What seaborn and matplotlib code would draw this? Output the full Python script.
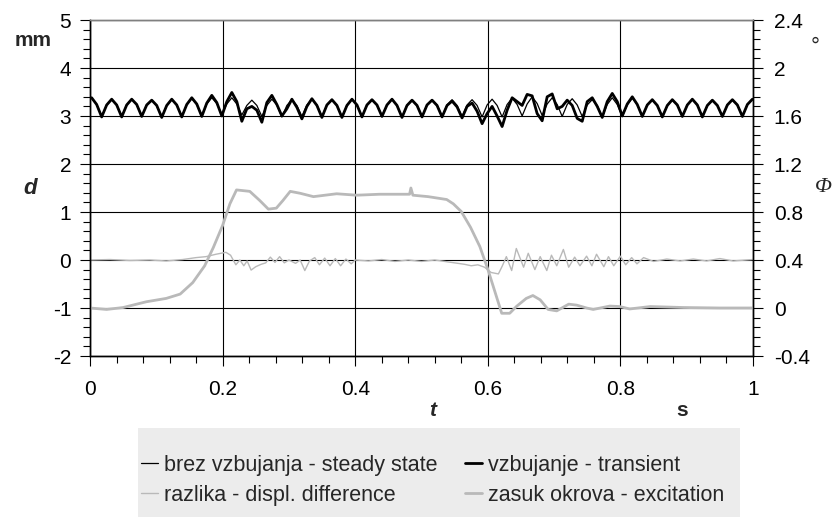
import numpy as np
import matplotlib
matplotlib.use('Agg')
import matplotlib.pyplot as plt
import seaborn as sns
from matplotlib.patches import Rectangle
from matplotlib.ticker import MultipleLocator, FixedLocator

# odmiki (mm), vzorci na vsake 7.55 ms; po 4 vzorci na nihaj (vrh, pad, dno, dvig)
steady = [
    3.37, 3.24, 2.99, 3.23,  3.34, 3.23, 2.99, 3.23,  3.35, 3.24, 3.00, 3.23,
    3.33, 3.22, 2.98, 3.22,  3.34, 3.23, 2.99, 3.24,  3.36, 3.24, 3.00, 3.25,
    3.38, 3.26, 3.03, 3.25,  3.38, 3.25, 3.02, 3.22,  3.33, 3.22, 2.99, 3.22,
    3.35, 3.23, 2.98, 3.22,  3.34, 3.22, 2.99, 3.23,  3.35, 3.23, 2.99, 3.23,
    3.34, 3.22, 2.98, 3.22,  3.35, 3.23, 2.99, 3.23,  3.34, 3.23, 3.00, 3.23,
    3.35, 3.22, 2.98, 3.22,  3.33, 3.22, 2.99, 3.23,  3.34, 3.23, 2.99, 3.23,
    3.34, 3.22, 2.99, 3.23,  3.34, 3.22, 2.98, 3.23,  3.35, 3.22, 2.98, 3.24,
    3.37, 3.24, 3.00, 3.25,  3.40, 3.26, 3.01, 3.25,  3.38, 3.24, 2.99, 3.24,
    3.36, 3.23, 2.99, 3.23,  3.34, 3.22, 2.98, 3.24,  3.38, 3.24, 2.99, 3.23,
    3.37, 3.24, 2.99, 3.23,  3.34, 3.22, 2.98, 3.22,  3.34, 3.23, 2.99, 3.23,
    3.35, 3.23, 2.98, 3.22,  3.33, 3.22, 2.99, 3.23,  3.34, 3.23, 2.99, 3.24,
    3.35,
]
transient = [
    3.38, 3.24, 2.98, 3.23,  3.35, 3.23, 2.98, 3.23,  3.35, 3.24, 2.99, 3.23,
    3.33, 3.22, 2.97, 3.22,  3.35, 3.23, 2.98, 3.24,  3.38, 3.25, 2.99, 3.27,
    3.43, 3.28, 3.00, 3.30,  3.49, 3.30, 2.89, 3.15,  3.20, 3.12, 2.87, 3.28,
    3.43, 3.24, 3.00, 3.15,  3.35, 3.18, 2.94, 3.20,  3.36, 3.22, 2.97, 3.23,
    3.34, 3.22, 2.97, 3.22,  3.35, 3.23, 2.98, 3.23,  3.34, 3.23, 2.99, 3.23,
    3.35, 3.22, 2.97, 3.22,  3.33, 3.22, 2.98, 3.23,  3.33, 3.22, 2.98, 3.22,
    3.31, 3.19, 2.96, 3.20,  3.27, 3.10, 2.84, 3.05,  3.20, 3.00, 2.78, 3.12,
    3.38, 3.30, 3.22, 3.45,  3.42, 3.05, 2.90, 3.40,  3.46, 3.15, 3.20, 3.33,
    3.22, 2.95, 2.89, 3.30,  3.38, 3.20, 2.97, 3.30,  3.47, 3.30, 3.00, 3.25,
    3.40, 3.24, 2.99, 3.23,  3.34, 3.22, 2.98, 3.22,  3.34, 3.23, 2.99, 3.23,
    3.35, 3.23, 2.98, 3.22,  3.33, 3.22, 2.99, 3.23,  3.34, 3.23, 2.99, 3.24,
    3.35,
]
t_osc = 0.0025 + 0.00755 * np.arange(len(steady))

# razlika odmikov (mm)
diff_t = [0.0, 0.03, 0.06, 0.09, 0.115, 0.14, 0.16, 0.175, 0.19, 0.205, 0.212,
          0.22, 0.226, 0.232, 0.237, 0.243, 0.25, 0.258, 0.265, 0.272, 0.279,
          0.286, 0.293, 0.30, 0.31, 0.317, 0.324, 0.331, 0.339, 0.346, 0.354,
          0.362, 0.37, 0.378, 0.386, 0.394, 0.40, 0.42, 0.44, 0.46, 0.48, 0.50,
          0.52, 0.54, 0.555, 0.565, 0.575, 0.585, 0.595, 0.605, 0.616, 0.622,
          0.628, 0.636, 0.643, 0.654, 0.661, 0.671, 0.679, 0.689, 0.696, 0.704,
          0.714, 0.722, 0.731, 0.739, 0.749, 0.757, 0.764, 0.775, 0.782, 0.790,
          0.800, 0.808, 0.817, 0.825, 0.835, 0.85, 0.87, 0.89, 0.91, 0.93,
          0.95, 0.97, 1.0]
diff_v = [0.0, 0.01, -0.01, 0.0, -0.02, 0.01, 0.05, 0.07, 0.12, 0.16, 0.10,
          -0.10, 0.0, -0.12, -0.02, -0.21, -0.14, -0.09, -0.06, 0.06, -0.05,
          0.07, -0.06, 0.0, -0.07, 0.0, -0.22, -0.02, 0.05, -0.10, 0.04,
          -0.12, 0.03, -0.12, 0.02, -0.08, 0.0, -0.02, 0.01, -0.03, 0.0, -0.03,
          0.0, -0.04, -0.07, -0.09, -0.12, -0.10, -0.15, -0.26, -0.29, -0.12,
          0.07, -0.22, 0.24, -0.15, 0.14, -0.20, 0.07, -0.22, 0.10, -0.12,
          0.22, -0.15, 0.06, -0.12, 0.08, -0.12, 0.12, -0.14, 0.07, -0.12,
          0.08, -0.10, 0.05, -0.08, 0.05, -0.03, 0.02, -0.02, 0.02, -0.02,
          0.03, -0.02, 0.01]

# zasuk okrova (stopinje)
exc_t = [0.0, 0.025, 0.05, 0.085, 0.115, 0.136, 0.155, 0.173, 0.186, 0.20,
         0.211, 0.221, 0.241, 0.256, 0.269, 0.281, 0.291, 0.302, 0.317, 0.337,
         0.372, 0.402, 0.437, 0.482, 0.484, 0.487, 0.51, 0.538, 0.548, 0.56,
         0.574, 0.588, 0.60, 0.613, 0.621, 0.633, 0.643, 0.658, 0.668, 0.679,
         0.691, 0.704, 0.722, 0.734, 0.749, 0.759, 0.784, 0.799, 0.814, 0.845,
         0.895, 0.95, 1.0]
exc_v = [0.0, -0.012, 0.004, 0.052, 0.08, 0.116, 0.212, 0.352, 0.504, 0.688,
         0.868, 0.984, 0.972, 0.896, 0.824, 0.832, 0.896, 0.972, 0.956, 0.928,
         0.952, 0.94, 0.948, 0.948, 1.0, 0.94, 0.928, 0.904, 0.868, 0.804,
         0.672, 0.512, 0.324, 0.096, -0.044, -0.044, 0.012, 0.08, 0.104, 0.068,
         -0.012, -0.024, 0.032, 0.024, 0.0, -0.012, 0.016, 0.012, -0.008, 0.012,
         0.004, 0.0, 0.0]

x_labels = ['0', '0.2', '0.4', '0.6', '0.8', '1']
left_labels = ['-2', '-1', '0', '1', '2', '3', '4', '5']
right_labels = ['-0.4', '0', '0.4', '0.8', '1.2', '1.6', '2', '2.4']

sns.set_theme(style='white')
plt.rcParams['font.family'] = ['Liberation Sans', 'DejaVu Sans']

W, H = 833, 517
fig = plt.figure(figsize=(W / 100, H / 100), dpi=100)
ax = fig.add_axes([90 / W, 1 - 356 / H, 663 / W, 336 / H])
ax2 = ax.twinx()

grey = '#b9b9b9'
sns.lineplot(x=t_osc, y=steady, ax=ax, color='black', lw=0.9,
             label='brez vzbujanja - steady state', zorder=4)
sns.lineplot(x=t_osc, y=transient, ax=ax, color='black', lw=2.0,
             label='vzbujanje - transient', zorder=3)
sns.lineplot(x=diff_t, y=diff_v, ax=ax, color=grey, lw=1.0,
             label='razlika - displ. difference', zorder=2)
sns.lineplot(x=exc_t, y=exc_v, ax=ax2, color=grey, lw=2.0,
             label='zasuk okrova - excitation')

ax.set_xlim(0, 1)
ax.set_ylim(-2, 5)
ax2.set_ylim(-0.4, 2.4)
ax.set_xlabel('')
ax.set_ylabel('')
ax2.set_ylabel('')

ax.xaxis.set_major_locator(FixedLocator([0, 0.2, 0.4, 0.6, 0.8, 1.0]))
ax.xaxis.set_minor_locator(MultipleLocator(0.04))
ax.set_xticklabels(x_labels)
ax.yaxis.set_major_locator(FixedLocator(range(-2, 6)))
ax.yaxis.set_minor_locator(MultipleLocator(0.2))
ax.set_yticklabels(left_labels)
ax2.yaxis.set_major_locator(FixedLocator([-0.4, 0, 0.4, 0.8, 1.2, 1.6, 2.0, 2.4]))
ax2.yaxis.set_minor_locator(MultipleLocator(0.08))
ax2.set_yticklabels(right_labels)

ax.grid(True, which='major', color='black', lw=0.8)
ax.set_axisbelow(True)
for a in (ax, ax2):
    for s in a.spines.values():
        s.set_color('black')
        s.set_linewidth(1.0)
    a.spines['top'].set_color('#808080')
    a.tick_params(which='both', colors='black', width=0.8, labelsize=15)
ax.tick_params(axis='x', which='major', direction='out', length=7, pad=10, bottom=True)
ax.tick_params(axis='x', which='minor', direction='out', length=5, bottom=True)
ax.tick_params(axis='y', which='major', direction='out', length=7, pad=6.5, left=True)
ax.tick_params(axis='y', which='minor', direction='out', length=5, left=True)
ax2.tick_params(axis='y', which='major', direction='out', length=7, pad=8, right=True)
ax2.tick_params(axis='y', which='minor', direction='out', length=5, right=True)
ax.legend_.remove()
ax2.legend_.remove()


def px(x, y):
    return x / W, 1 - y / H


fig.text(*px(33, 40), 'mm', fontsize=15, fontweight='bold', ha='center', va='center')
fig.text(*px(30, 188), 'd', fontsize=16, fontweight='bold', style='italic',
         ha='center', va='center')
fig.text(*px(433, 411), 't', fontsize=15, fontweight='bold', style='italic',
         ha='center', va='center')
fig.text(*px(682, 411), 's', fontsize=15, fontweight='bold', ha='center', va='center')
fig.text(*px(815, 47), '°', fontsize=16, ha='center', va='center')
fig.text(*px(823, 188), 'Φ', fontsize=16, style='italic', family='Liberation Serif',
         ha='center', va='center')

fig.patches.append(Rectangle((138 / W, 0), 602 / W, 1 - 428 / H,
                             transform=fig.transFigure, facecolor='#ececec',
                             edgecolor='none', zorder=0))
h1, l1 = ax.get_legend_handles_labels()
h2, l2 = ax2.get_legend_handles_labels()
handles = [h1[0], h1[2], h1[1], h2[0]]
labels = [l1[0], l1[2], l1[1], l2[0]]
fig.legend(handles, labels, ncol=2, loc='upper left', bbox_to_anchor=px(141, 455),
           frameon=False, prop={'family': 'Liberation Sans', 'size': 15.5},
           handlelength=0.8, handletextpad=0.25, columnspacing=1.3,
           labelspacing=0.4, borderaxespad=0, borderpad=0)

fig.savefig('out.png', dpi=100)
